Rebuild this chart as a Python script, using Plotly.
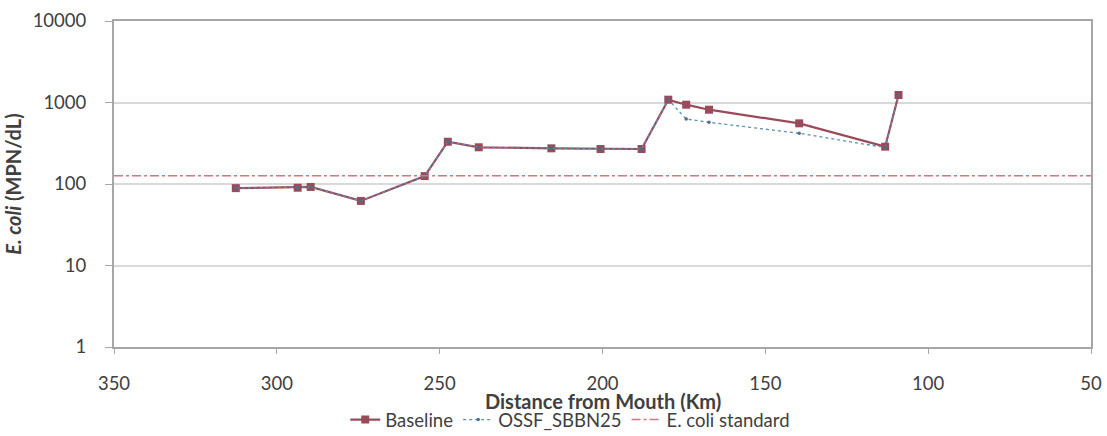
import plotly.graph_objects as go

distance_km = [312.6, 293.6, 289.6, 274.2, 254.6, 247.5, 238.0, 215.7, 200.6, 188.0,
               179.8, 174.3, 167.3, 139.6, 113.2, 109.1]
baseline = [89, 90, 92, 62, 125, 330, 282, 274, 269, 269,
            1083, 940, 816, 555, 287, 1236]
ossf_sbbn25 = [89, 90, 92, 62, 125, 330, 282, 274, 269, 269,
               1083, 628, 571, 419, 280, 1236]
standard_value = 126
x_range = [350, 50]
x_ticks = [350, 300, 250, 200, 150, 100, 50]
y_ticks = [1, 10, 100, 1000, 10000]
x_title = "<b>Distance from Mouth (Km)</b>"
y_title = "<b><i>E. coli</i> (MPN/dL)</b>"

font_family = "Lato, 'Open Sans', sans-serif"
text_color = "#404040"

fig = go.Figure()
fig.add_trace(go.Scatter(
    x=distance_km, y=baseline, name="Baseline", mode="lines+markers",
    line=dict(color="#9b4a5a", width=2.2),
    marker=dict(symbol="square", size=8, color="#9b4a5a"),
))
fig.add_trace(go.Scatter(
    x=distance_km, y=ossf_sbbn25, name="OSSF_SBBN25", mode="lines+markers",
    line=dict(color="#5b8fb0", width=1.3, dash="dot"),
    marker=dict(symbol="circle", size=3.5, color="#4a6f8a"),
))
fig.add_trace(go.Scatter(
    x=x_range, y=[standard_value, standard_value], name="E. coli standard",
    mode="lines", line=dict(color="#d9737e", width=1.5, dash="dashdot"),
))

fig.update_layout(
    width=1107, height=436,
    margin=dict(l=114, r=16, t=21, b=89, autoexpand=False),
    paper_bgcolor="white", plot_bgcolor="white",
    font=dict(family=font_family, size=18, color=text_color),
    showlegend=True,
    legend=dict(orientation="h", x=0.467, xanchor="center", y=-0.224, yanchor="middle",
                font=dict(size=18.5, color=text_color),
                traceorder="normal"),
    annotations=[dict(text=x_title, xref="paper", yref="paper", x=0.5, y=-0.1656,
                      xanchor="center", yanchor="middle", showarrow=False,
                      font=dict(size=20, color=text_color))],
)
fig.update_xaxes(
    range=x_range, tickvals=x_ticks, ticktext=[str(t) for t in x_ticks],
    showgrid=False, showline=True, linecolor="#a6a6a6", linewidth=2,
    mirror=True, ticks="outside", ticklen=5, tickcolor="#a6a6a6",
    ticklabelstandoff=14,
    zeroline=False, automargin=False,
    tickfont=dict(size=18.5, color=text_color),
)
fig.update_yaxes(
    type="log", range=[0, 4], tickvals=y_ticks, ticktext=[str(t) for t in y_ticks],
    showgrid=True, gridcolor="#d9d9d9", gridwidth=1.5,
    showline=True, linecolor="#a6a6a6", linewidth=2, mirror=True,
    ticks="outside", ticklen=7, tickcolor="#a6a6a6", automargin=False,
    ticklabelstandoff=15,
    title=dict(text=y_title, standoff=6,
               font=dict(size=20, color=text_color)),
    tickfont=dict(size=18.5, color=text_color),
)

fig.write_html("out.html", config={"displayModeBar": False},
               post_script="document.body.style.margin='0';document.body.style.overflow='hidden';")
